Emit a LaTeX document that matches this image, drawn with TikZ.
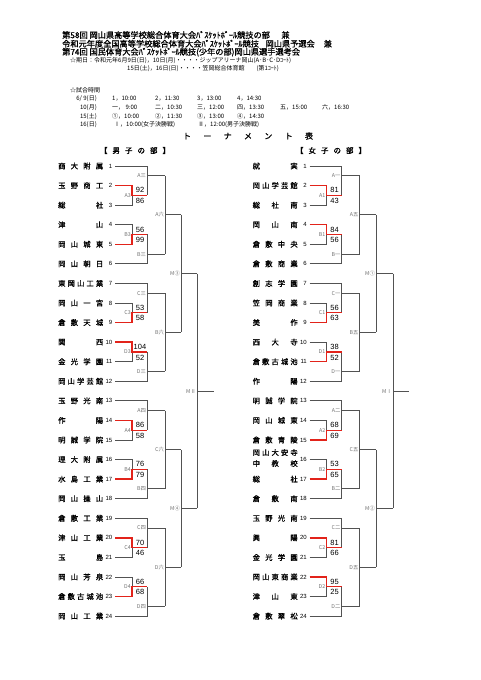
\documentclass[tikz,border=0pt]{standalone}
\usepackage{fontspec}
\setmainfont{Noto Sans CJK JP}
\newfontfamily\jpb[FakeBold=1.1]{Noto Sans CJK JP}
\newfontfamily\ars{Liberation Sans}
\usetikzlibrary{calc}
\definecolor{rd}{HTML}{E2231A}
\newcommand\hs{\hfill}
\newcommand\Yt[1]{(166+((#1)-1)*19.57)}
\newcommand\nm[1]{\makebox[45pt][s]{#1}}
\tikzset{
 ln/.style={draw=black!68, line width=0.9pt},
 win/.style={draw=rd, line width=1.4pt},
 sc/.style={font=\ars\fontsize{7.5}{8}\selectfont, inner sep=0},
 lab/.style={font=\fontsize{5.3}{6}\selectfont, text=black!55, inner sep=0, anchor=east},
 tnum/.style={font=\ars\fontsize{6}{7}\selectfont, inner sep=0, anchor=east},
 tname/.style={font=\jpb\fontsize{7.3}{8}\selectfont, inner sep=0, anchor=west},
 hd/.style={font=\jpb\fontsize{8.2}{9}\selectfont, inner sep=0, anchor=west},
 sm/.style={font=\fontsize{6}{7}\selectfont, inner sep=0, anchor=west},
}
% group with bye team on top
\newcommand\GrpU[7]{%
 \pgfmathsetmacro\ya{\Yt{#1}}\pgfmathsetmacro\yb{\Yt{#1+1}}\pgfmathsetmacro\yc{\Yt{#1+2}}%
 \pgfmathsetmacro\ym{(\yb+\yc)/2}\pgfmathsetmacro\yo{(\ya+\yb)/2}%
 \ifnum#2=1 \let\yw\yb\let\yl\yc\else\let\yw\yc\let\yl\yb\fi
 \draw[ln] (115,\ya) -- (147,\ya) -- (147,\ym);
 \draw[ln] (147,\yo) -- (165,\yo) coordinate (#7);
 \draw[ln] (115,\yl) -| (132,\ym);
 \draw[win] (115,\yw) -| (132,\ym) -- (147,\ym);
 \node[sc] at (140,{\ym-5}) {#3};
 \node[sc] at (140,{\ym+5.5}) {#4};
 \node[lab] at (131,\ym) {#5};
 \node[lab] at (146,\yo) {#6};
}
% group with bye team at bottom
\newcommand\GrpL[7]{%
 \pgfmathsetmacro\ya{\Yt{#1}}\pgfmathsetmacro\yb{\Yt{#1+1}}\pgfmathsetmacro\yc{\Yt{#1+2}}%
 \pgfmathsetmacro\ym{(\ya+\yb)/2}\pgfmathsetmacro\yo{(\yb+\yc)/2}%
 \ifnum#2=1 \let\yw\ya\let\yl\yb\else\let\yw\yb\let\yl\ya\fi
 \draw[ln] (115,\yc) -- (147,\yc) -- (147,\ym);
 \draw[ln] (147,\yo) -- (165,\yo) coordinate (#7);
 \draw[ln] (115,\yl) -| (132,\ym);
 \draw[win] (115,\yw) -| (132,\ym) -- (147,\ym);
 \node[sc] at (140,{\ym-5}) {#3};
 \node[sc] at (140,{\ym+5.5}) {#4};
 \node[lab] at (131,\ym) {#5};
 \node[lab] at (146,\yo) {#6};
}
\newcommand\JoinB[5]{%
 \draw[ln] (#1) -- (#2);
 \coordinate (#3s) at ($(#1)!0.5!(#2)$);
 \draw[ln] (#3s) -- ++(#4,0) coordinate (#3);
 \node[lab] at ([xshift=-1pt]#3s) {#5};
}
\begin{document}
\begin{tikzpicture}[x=1pt,y=-1pt]
\fill[white] (0,0) rectangle (481,680);
\useasboundingbox (0,0) rectangle (481,680);

% ---------- header ----------
\node[hd] (h1) at (62,35) {第58回 岡山県高等学校総合体育大会ﾊﾞｽｹｯﾄﾎﾞｰﾙ競技の部\hspace{1.4em}兼};
\node[hd] (h2) at (62,43.7) {令和元年度全国高等学校総合体育大会ﾊﾞｽｹｯﾄﾎﾞｰﾙ競技\hspace{0.8em}岡山県予選会\hspace{1.1em}兼};
\node[hd] (h3) at (62,52.2) {第74回 国民体育大会ﾊﾞｽｹｯﾄﾎﾞｰﾙ競技(少年の部)岡山県選手選考会};
\node[sm] (h4) at (70,60.8) {☆期日：令和元年6月9日(日)，10日(月)・・・・ジップアリーナ岡山(A･B･C･Dｺｰﾄ)};
\node[sm] (h5) at (127,68.6) {15日(土)，16日(日)・・・・笠岡総合体育館\hspace{2em}(第1ｺｰﾄ)};

\node[sm] (st) at (70,90) {☆試合時間};
\node[sm,anchor=east] (d1) at (97,99) {6/ 9(日)};
\node[sm,anchor=east] (d2) at (97,107.5) {10(月)};
\node[sm,anchor=east] (d3) at (97,116.5) {15(土)};
\node[sm,anchor=east] (d4) at (97,125) {16(日)};
\node[sm] (t11) at (112,99) {1，10:00};
\node[sm] (t12) at (155,99) {2，11:30};
\node[sm] (t13) at (197,99) {3，13:00};
\node[sm] (t14) at (237,99) {4，14:30};
\node[sm] (t21) at (112,107.5) {一，\ 9:00};
\node[sm] (t22) at (155,107.5) {二，10:30};
\node[sm] (t23) at (197,107.5) {三，12:00};
\node[sm] (t24) at (237,107.5) {四，13:30};
\node[sm] (t25) at (280,107.5) {五，15:00};
\node[sm] (t26) at (322,107.5) {六，16:30};
\node[sm] (t31) at (112,116.5) {①，10:00};
\node[sm] (t32) at (155,116.5) {②，11:30};
\node[sm] (t33) at (197,116.5) {③，13:00};
\node[sm] (t34) at (237,116.5) {④，14:30};
\node[sm] (t41) at (114,125) {Ⅰ，10:00(女子決勝戦)};
\node[sm] (t42) at (198,125) {Ⅱ，12:00(男子決勝戦)};

\node[font=\jpb\fontsize{8}{9}\selectfont, inner sep=0] (title) at (248,136) {\makebox[130pt][s]{ト\hs ー\hs ナ\hs メ\hs ン\hs ト\hs 表}};
\node[font=\jpb\fontsize{7.5}{9}\selectfont, inner sep=0] (msec) at (135,150.5) {\makebox[70pt][s]{【\hs 男\hs 子\hs の\hs 部\hs 】}};
\node[font=\jpb\fontsize{7.5}{9}\selectfont, inner sep=0] (fsec) at (331,150.5) {\makebox[70pt][s]{【\hs 女\hs 子\hs の\hs 部\hs 】}};

% ---------- men ----------
\foreach \i/\n in {1/商\hs 大\hs 附\hs 属,2/玉\hs 野\hs 商\hs 工,3/総\hs 社,4/津\hs 山,5/岡\hs 山\hs 城\hs 東,6/岡\hs 山\hs 朝\hs 日,7/東\hs 岡\hs 山\hs 工\hs 業,8/岡\hs 山\hs 一\hs 宮,9/倉\hs 敷\hs 天\hs 城,10/関\hs 西,11/金\hs 光\hs 学\hs 園,12/岡\hs 山\hs 学\hs 芸\hs 館,13/玉\hs 野\hs 光\hs 南,14/作\hs 陽,15/明\hs 誠\hs 学\hs 院,16/理\hs 大\hs 附\hs 属,17/水\hs 島\hs 工\hs 業,18/岡\hs 山\hs 操\hs 山,19/倉\hs 敷\hs 工\hs 業,20/津\hs 山\hs 工\hs 業,21/玉\hs 島,22/岡\hs 山\hs 芳\hs 泉,23/倉\hs 敷\hs 古\hs 城\hs 池,24/岡\hs 山\hs 工\hs 業}{
 \node[tname] (m\i) at (58,{\Yt{\i}}) {\nm{\n}};
 \node[tnum] (mk\i) at (112.5,{\Yt{\i}}) {\i};
}
\GrpU{1}{1}{92}{86}{A3}{A三}{mA}
\GrpL{4}{2}{56}{99}{B3}{B三}{mB}
\GrpU{7}{2}{53}{58}{C3}{C三}{mC}
\GrpL{10}{1}{104}{52}{D3}{D三}{mD}
\GrpU{13}{1}{86}{58}{A4}{A四}{mE}
\GrpL{16}{2}{76}{79}{B4}{B四}{mF}
\GrpU{19}{1}{70}{46}{C4}{C四}{mG}
\GrpL{22}{2}{66}{68}{D4}{D四}{mH}
\JoinB{mA}{mB}{mAB}{16}{A六}
\JoinB{mC}{mD}{mCD}{16}{B六}
\JoinB{mE}{mF}{mEF}{16}{C六}
\JoinB{mG}{mH}{mGH}{16}{D六}
\JoinB{mAB}{mCD}{mUp}{16}{M③}
\JoinB{mEF}{mGH}{mLo}{16}{M④}
\JoinB{mUp}{mLo}{mFin}{17}{MⅡ}

% ---------- women ----------
\begin{scope}[xshift=194.5pt]
\foreach \i/\n in {1/就\hs 実,2/岡\hs 山\hs 学\hs 芸\hs 館,3/総\hs 社\hs 南,4/岡\hs 山\hs 南,5/倉\hs 敷\hs 中\hs 央,6/倉\hs 敷\hs 商\hs 業,7/創\hs 志\hs 学\hs 園,8/笠\hs 岡\hs 商\hs 業,9/美\hs 作,10/西\hs 大\hs 寺,11/倉\hs 敷\hs 古\hs 城\hs 池,12/作\hs 陽,13/明\hs 誠\hs 学\hs 院,14/岡\hs 山\hs 城\hs 東,15/倉\hs 敷\hs 青\hs 陵,17/総\hs 社,18/倉\hs 敷\hs 南,19/玉\hs 野\hs 光\hs 南,20/興\hs 陽,21/金\hs 光\hs 学\hs 園,22/岡\hs 山\hs 東\hs 商\hs 業,23/津\hs 山\hs 東,24/倉\hs 敷\hs 翠\hs 松}{
 \node[tname] (f\i) at (58,{\Yt{\i}}) {\nm{\n}};
}
\node[tname] (f16) at (58,{\Yt{16}-7}) {\nm{岡\hs 山\hs 大\hs 安\hs 寺}};
\node[tname] (f16b) at (58,{\Yt{16}+4}) {\nm{中\hs 教\hs 校}};
\foreach \i in {1,...,24}{
 \node[tnum] (fk\i) at (112.5,{\Yt{\i}}) {\i};
}
\GrpU{1}{1}{81}{43}{A1}{A一}{fA}
\GrpL{4}{1}{84}{56}{B1}{B一}{fB}
\GrpU{7}{2}{56}{63}{C1}{C一}{fC}
\GrpL{10}{2}{38}{52}{D1}{D一}{fD}
\GrpU{13}{2}{68}{69}{A2}{A二}{fE}
\GrpL{16}{2}{53}{65}{B2}{B二}{fF}
\GrpU{19}{1}{81}{66}{C2}{C二}{fG}
\GrpL{22}{1}{95}{25}{D2}{D二}{fH}
\JoinB{fA}{fB}{fAB}{16.5}{A五}
\JoinB{fC}{fD}{fCD}{16.5}{B五}
\JoinB{fE}{fF}{fEF}{16.5}{C五}
\JoinB{fG}{fH}{fGH}{16.5}{D五}
\JoinB{fAB}{fCD}{fUp}{17}{M①}
\JoinB{fEF}{fGH}{fLo}{17}{M②}
\JoinB{fUp}{fLo}{fFin}{16}{MⅠ}
\end{scope}
\end{tikzpicture}
\end{document}
